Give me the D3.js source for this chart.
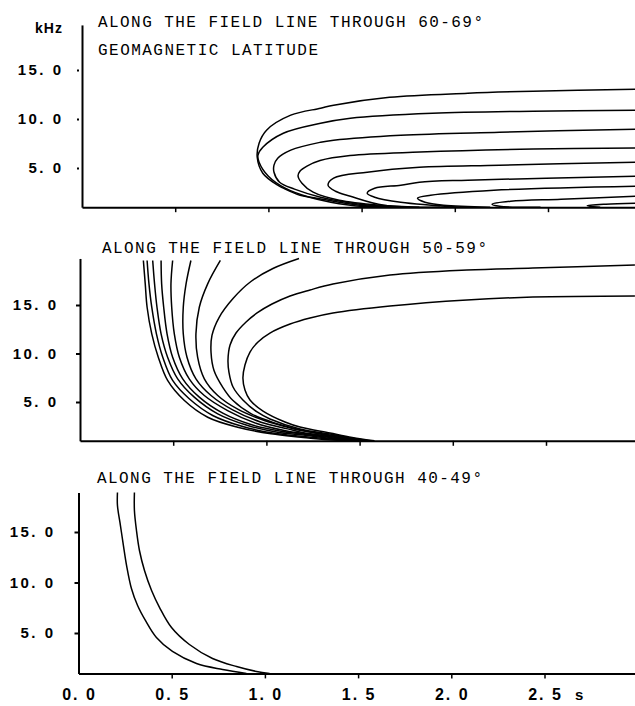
<!DOCTYPE html>
<html>
<head>
<meta charset="utf-8">
<script src="https://cdn.jsdelivr.net/npm/d3@7"></script>
<style>
  body { margin: 0; background: #fff; }
  svg { display: block; }
</style>
</head>
<body>
<svg id="chart" width="635" height="706"></svg>
<script>
// travel time (s) and frequency (kHz)
var timeTicks = [0, 0.5, 1.0, 1.5, 2.0, 2.5];
var timeTickLabels = ["0. 0", "0. 5", "1. 0", "1. 5", "2. 0", "2. 5"];
var freqTicks = [5, 10, 15];
var freqTickLabels = ["5. 0", "10. 0", "15. 0"];

var titles6069 = ["ALONG THE FIELD LINE THROUGH 60-69°", "GEOMAGNETIC LATITUDE"];
var titles5059 = ["ALONG THE FIELD LINE THROUGH 50-59°"];
var titles4049 = ["ALONG THE FIELD LINE THROUGH 40-49°"];

// each trace: [time s, frequency kHz]
var traces6069 = [
  [[1.65,1.0],[1.49,1.2],[1.26,1.92],[1.17,2.22],[1.08,2.94],[1.05,3.24],[0.97,4.47],[0.94,6.1],[0.95,7.53],[0.99,8.86],[1.12,10.39],[1.28,11.1],[1.35,11.41],[1.65,12.22],[2.07,12.63],[2.42,12.84],[2.97,13.04]],
  [[1.60,1.0],[1.44,1.2],[1.22,2.02],[1.09,2.94],[1.00,4.16],[0.95,5.59],[0.944,6.31],[0.97,7.12],[1.08,8.55],[1.28,9.57],[1.44,10.08],[1.88,10.59],[2.42,10.8],[2.97,10.9]],
  [[1.71,1.0],[1.49,1.31],[1.28,2.02],[1.14,2.84],[1.06,3.55],[1.03,4.57],[1.03,5.29],[1.05,6.0],[1.12,6.82],[1.28,7.63],[1.35,7.84],[1.71,8.35],[2.24,8.65],[2.97,8.96]],
  [[1.81,1.0],[1.60,1.2],[1.38,1.71],[1.24,2.53],[1.18,3.45],[1.159,4.18],[1.17,4.69],[1.207,5.2],[1.277,5.77],[1.438,6.28],[1.813,6.63],[2.42,6.94],[2.967,7.04]],
  [[1.92,1.0],[1.62,1.2],[1.44,2.12],[1.36,2.63],[1.32,3.24],[1.35,3.96],[1.53,4.57],[1.81,5.08],[2.24,5.29],[2.97,5.59]],
  [[2.03,1.0],[1.71,1.51],[1.57,2.02],[1.53,2.43],[1.57,2.94],[1.71,3.24],[1.81,3.55],[2.07,3.76],[2.97,4.16]],
  [[2.19,1.0],[1.94,1.2],[1.84,1.51],[1.80,1.92],[1.87,2.22],[2.21,2.73],[2.97,3.14]],
  [[2.46,1.0],[2.24,1.1],[2.20,1.31],[2.30,1.61],[2.57,1.82],[2.97,2.12]],
  [[2.78,1.0],[2.71,1.15],[2.81,1.31],[2.97,1.41]]
];

var traces5059 = [
  [[0.34,19.59],[0.35,17.18],[0.36,14.77],[0.385,12.03],[0.42,9.62],[0.47,7.22],[0.56,5.15],[0.685,3.43],[0.846,2.40],[1.025,1.72],[1.186,1.37],[1.33,1.1],[1.45,1.0]],
  [[0.36,19.59],[0.37,17.18],[0.385,14.77],[0.41,12.03],[0.444,9.62],[0.497,7.22],[0.586,5.33],[0.712,3.61],[0.873,2.47],[1.042,1.78],[1.186,1.47],[1.36,1.15],[1.47,1.0]],
  [[0.39,19.59],[0.40,17.18],[0.413,14.77],[0.435,12.03],[0.47,9.62],[0.524,7.39],[0.613,5.50],[0.739,3.78],[0.90,2.58],[1.06,1.89],[1.186,1.62],[1.37,1.2],[1.49,1.0]],
  [[0.435,19.59],[0.438,17.18],[0.449,14.77],[0.467,12.03],[0.497,9.62],[0.551,7.39],[0.64,5.50],[0.766,3.85],[0.917,2.68],[1.078,1.99],[1.186,1.72],[1.38,1.25],[1.50,1.0]],
  [[0.497,19.59],[0.488,17.18],[0.492,14.77],[0.506,12.03],[0.533,9.62],[0.586,7.39],[0.667,5.67],[0.792,4.12],[0.944,2.81],[1.096,2.06],[1.186,1.78],[1.39,1.3],[1.52,1.0]],
  [[0.595,19.59],[0.569,17.18],[0.554,14.77],[0.554,12.03],[0.574,9.62],[0.622,7.39],[0.703,5.67],[0.819,4.19],[0.971,2.92],[1.114,2.23],[1.186,1.89],[1.40,1.35],[1.53,1.0]],
  [[0.753,19.59],[0.685,17.18],[0.64,14.77],[0.622,12.03],[0.631,9.62],[0.667,7.39],[0.739,5.67],[0.846,4.26],[0.989,3.09],[1.114,2.40],[1.186,2.06],[1.41,1.4],[1.54,1.0]],
  [[1.175,19.79],[1.035,18.76],[0.917,17.42],[0.821,15.67],[0.746,13.71],[0.708,11.86],[0.703,10.10],[0.719,8.25],[0.767,6.49],[0.821,5.15],[0.917,3.81],[1.035,2.90],[1.186,2.12],[1.347,1.5],[1.45,1.15],[1.55,1.0]],
  [[2.977,19.12],[2.43,18.81],[2.076,18.61],[1.663,18.09],[1.357,17.16],[1.234,16.55],[1.127,15.93],[1.03,15.10],[0.95,14.18],[0.891,13.25],[0.837,12.11],[0.805,10.88],[0.794,9.33],[0.799,8.09],[0.821,6.55],[0.874,5.21],[0.95,3.97],[1.019,3.25],[1.18,2.22],[1.341,1.70],[1.45,1.3],[1.56,1.0]],
  [[2.977,15.93],[2.43,15.82],[2.076,15.52],[1.663,14.90],[1.357,14.18],[1.234,13.66],[1.127,13.04],[1.019,12.11],[0.955,11.19],[0.912,10.15],[0.885,8.81],[0.874,7.47],[0.885,6.24],[0.912,5.21],[0.982,4.07],[1.10,2.94],[1.18,2.42],[1.341,1.80],[1.46,1.35],[1.58,1.0]]
];

var traces4049 = [
  [[0.209,18.91],[0.209,17.62],[0.225,15.64],[0.241,13.66],[0.258,11.68],[0.284,9.41],[0.317,7.72],[0.359,6.24],[0.418,4.55],[0.504,3.17],[0.633,1.98],[0.773,1.39],[0.901,1.0]],
  [[0.300,18.91],[0.300,17.13],[0.311,15.15],[0.327,13.17],[0.354,11.19],[0.392,9.21],[0.435,7.52],[0.499,5.54],[0.595,3.86],[0.719,2.48],[0.848,1.68],[0.955,1.19],[1.025,1.0]]
];

// layout of the three stacked panels (pixels)
var panels = [
  {traces: traces6069, titles: titles6069, x0: 82, axisY: 207.2, pxPerKHz: 9.8, fTop: 19.6,
   titleX: 98, titleY: [27, 55], labelRight: 61, detachedTicks: true},
  {traces: traces5059, titles: titles5059, x0: 80, axisY: 440.8, pxPerKHz: 9.7, fTop: 19.8,
   titleX: 102, titleY: [253], labelRight: 56, detachedTicks: false},
  {traces: traces4049, titles: titles4049, x0: 78.5, axisY: 673.4, pxPerKHz: 10.1, fTop: 18.9,
   titleX: 97, titleY: [483], labelRight: 53, detachedTicks: false, timeLabels: true}
];

var svg = d3.select("#chart");
var pxPerSecond = 186.4;
var titleAdvance = 11;

panels.forEach(function(p) {
  var x = d3.scaleLinear()
    .domain([0, 3])
    .range([p.x0, p.x0 + 3 * pxPerSecond]);

  var y = d3.scaleLinear()
    .domain([1, p.fTop])
    .range([p.axisY, p.axisY - (p.fTop - 1) * p.pxPerKHz]);

  var g = svg.append("g");

  var xAxis = d3.axisBottom(x)
    .tickValues(timeTicks.slice(1))
    .tickSizeInner(5)
    .tickSizeOuter(0)
    .tickFormat("");

  var yAxis = d3.axisLeft(y)
    .tickValues(freqTicks)
    .tickSizeInner(4)
    .tickSizeOuter(0)
    .tickFormat("");

  var gx = g.append("g")
    .attr("transform", "translate(0," + p.axisY + ")")
    .call(xAxis);
  gx.select(".domain").attr("stroke", "#000").attr("stroke-width", 2);
  gx.selectAll(".tick line").attr("stroke", "#000").attr("stroke-width", 1.5);

  var gy = g.append("g")
    .attr("transform", "translate(" + p.x0 + ",0)")
    .call(yAxis);
  gy.select(".domain").attr("stroke", "#000").attr("stroke-width", 2);
  gy.selectAll(".tick line").attr("stroke", "#000").attr("stroke-width", 2);
  if (p.detachedTicks) {
    gy.selectAll(".tick line").attr("x1", -3).attr("x2", -5);
  }

  // frequency labels
  g.selectAll(".flabel")
    .data(freqTicks)
    .enter().append("text")
    .attr("class", "flabel")
    .attr("x", p.labelRight + 2.5)
    .attr("y", function(d) { return y(d); })
    .attr("dy", "0.36em")
    .attr("text-anchor", "end")
    .attr("font-family", "Liberation Sans, Arial, sans-serif")
    .attr("font-weight", "bold")
    .attr("font-size", 15)
    .attr("letter-spacing", "2.5px")
    .style("fill", "#000")
    .text(function(d, i) { return freqTickLabels[i]; });

  // traces
  var line = d3.line()
    .x(function(d) { return x(d[0]); })
    .y(function(d) { return y(d[1]); })
    .curve(d3.curveCatmullRom.alpha(0.5));

  g.selectAll(".trace")
    .data(p.traces)
    .enter().append("path")
    .attr("class", "trace")
    .attr("d", line)
    .attr("fill", "none")
    .attr("stroke", "#000")
    .attr("stroke-width", 1.5)
    .attr("stroke-linejoin", "round");

  // panel titles
  p.titles.forEach(function(t, i) {
    g.append("text")
      .attr("x", p.titleX)
      .attr("y", p.titleY[i])
      .attr("font-family", "Liberation Mono, Courier New, monospace")
      .attr("font-size", 16)
      .attr("textLength", t.length * titleAdvance)
      .attr("lengthAdjust", "spacing")
      .style("fill", "#000")
      .text(t);
  });

  if (p.timeLabels) {
    g.selectAll(".tlabel")
      .data(timeTicks)
      .enter().append("text")
      .attr("class", "tlabel")
      .attr("x", function(d) { return x(d) + 1; })
      .attr("y", 700)
      .attr("text-anchor", "middle")
      .attr("font-family", "Liberation Sans, Arial, sans-serif")
      .attr("font-weight", "bold")
      .attr("font-size", 16)
      .attr("letter-spacing", "2px")
      .style("fill", "#000")
      .text(function(d, i) { return timeTickLabels[i]; });

    g.append("text")
      .attr("x", 575)
      .attr("y", 700)
      .attr("font-family", "Liberation Sans, Arial, sans-serif")
      .attr("font-weight", "bold")
      .attr("font-size", 15)
      .style("fill", "#000")
      .text("s");
  }
});

svg.append("text")
  .attr("x", 35)
  .attr("y", 33)
  .attr("font-family", "Liberation Sans, Arial, sans-serif")
  .attr("font-weight", "bold")
  .attr("font-size", 14)
  .attr("letter-spacing", "1px")
  .style("fill", "#000")
  .text("kHz");
</script>
</body>
</html>
